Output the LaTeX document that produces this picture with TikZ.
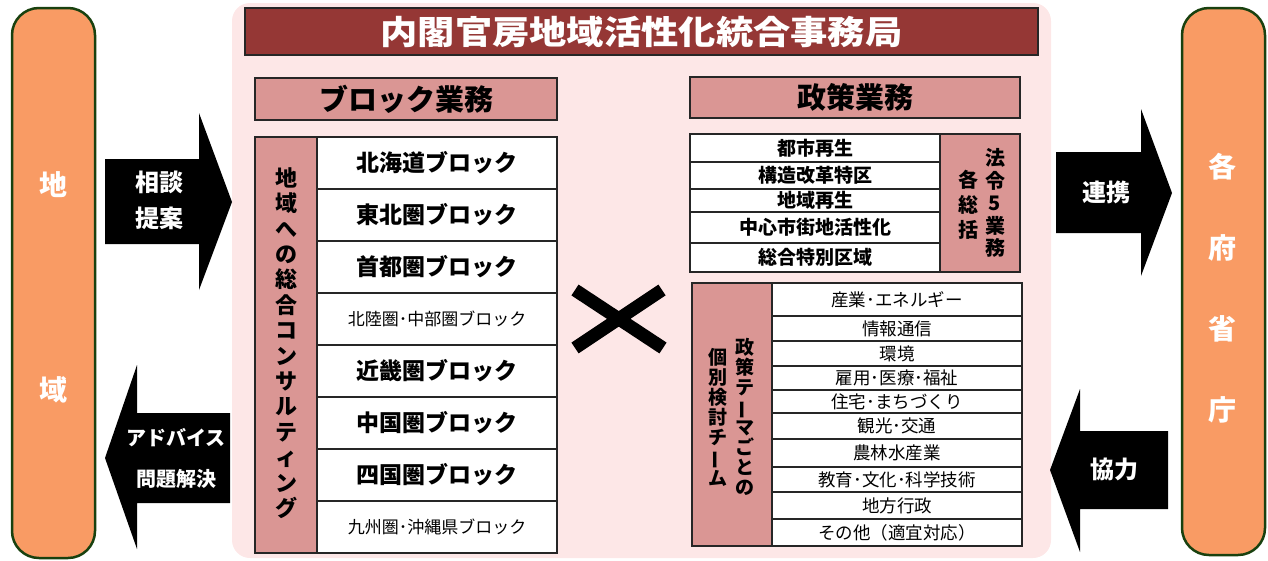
\documentclass[tikz,border=0pt]{standalone}
\usepackage{fontspec}
\setmainfont{Noto Sans CJK JP}
\usepackage{graphicx}
\usetikzlibrary{positioning}

\definecolor{sideorange}{RGB}{249,155,100}
\definecolor{sidegreen}{RGB}{25,65,15}
\definecolor{panelpink}{RGB}{253,231,231}
\definecolor{titlered}{RGB}{149,55,53}
\definecolor{hdrpink}{RGB}{218,150,148}

\newcommand{\blkbig}{\bfseries\fontsize{23}{26}\selectfont}
\newcommand{\blksmall}{\fontsize{17}{19}\selectfont}
\newcommand{\vbar}{\rotatebox[origin=c]{90}{ー}}

\tikzset{
  sidebox/.style={draw=sidegreen, line width=2.5pt, fill=sideorange, rounded corners=27pt,
    minimum width=83pt, inner sep=0pt},
  sidetext/.style={text=white, align=center},
  hdr/.style={draw=black!85, line width=1.2pt, fill=hdrpink, inner sep=0pt},
  cell/.style={draw=black!85, line width=1.2pt, fill=white, inner sep=0pt},
  arrowtext/.style={text=white, align=center},
  bigarrow/.style={fill=black}
}

\begin{document}
\begin{tikzpicture}[x=1pt, y=-1pt]
\useasboundingbox (0,0) rectangle (1268,560);

% side boxes
\node[sidebox, minimum height=550pt] (region) at (53.5,283) {};
\node[sidetext, font=\bfseries\fontsize{28}{205}\selectfont] (regiontxt) at (53.5,287) {地\\域};
\node[sidebox, minimum height=547pt] (ministry) at (1223.5,281.5) {};
\node[sidetext, font=\bfseries\fontsize{28}{81}\selectfont] (ministrytxt) at (1222,288) {各\\府\\省\\庁};

% office panel
\node[fill=panelpink, rounded corners=18pt, minimum width=819pt, minimum height=555pt] (office) at (641.5,280.5) {};
\node[draw=black!85, line width=1.2pt, fill=titlered, text=white, inner sep=0pt,
  minimum width=793pt, minimum height=47pt, font=\bfseries\fontsize{33}{36}\selectfont]
  (officetitle) at (641.5,31.5) {\scalebox{1.13}[1]{内閣官房地域活性化統合事務局}};

% headers
\node[hdr, minimum width=302pt, minimum height=42pt, font=\bfseries\fontsize{29}{32}\selectfont]
  (blockhdr) at (406,99) {ブロック業務};
\node[hdr, minimum width=330pt, minimum height=41pt, font=\bfseries\fontsize{29}{32}\selectfont]
  (policyhdr) at (855,97.5) {政策業務};

% block table
\node[hdr, minimum width=62pt, minimum height=416pt] (blockside) at (286,345) {};
\node[font=\bfseries\fontsize{22}{25.4}\selectfont, align=center] (blocksidetxt) at (286,343)
  {地\\域\\へ\\の\\総\\合\\コ\\ン\\サ\\ル\\テ\\ィ\\ン\\グ};
\foreach \t/\f [count=\i] in {北海道ブロック/\blkbig, 東北圏ブロック/\blkbig, 首都圏ブロック/\blkbig,
  北陸圏･中部圏ブロック/\blksmall, 近畿圏ブロック/\blkbig, 中国圏ブロック/\blkbig,
  四国圏ブロック/\blkbig, 九州圏･沖縄県ブロック/\blksmall}
  \node[cell, minimum width=240pt, minimum height=52pt, font=\f] (blk\i) at (437,111+52*\i) {\t};

% cross
\coordinate (crossa) at (575,290);
\coordinate (crossb) at (663,348);
\coordinate (crossc) at (662,290);
\coordinate (crossd) at (575,348);
\draw[line width=13pt] (crossa) -- (crossb) (crossc) -- (crossd);

% law tasks
\foreach \a/\b/\t [count=\i] in {134/162/都市再生, 162/189/構造改革特区, 189/212/地域再生,
  212/243/中心市街地活性化, 243/272/総合特別区域}
  \node[cell, minimum width=250pt, minimum height=\b-\a, font=\bfseries\fontsize{19}{21}\selectfont]
    (law\i) at (815,{(\a+\b)/2}) {\t};
\node[hdr, minimum width=80pt, minimum height=138pt] (lawside) at (980,203) {};
\node[font=\bfseries\fontsize{20}{22.5}\selectfont, align=center] (lawtxta) at (995,203) {法\\令\\5\\業\\務};
\node[font=\bfseries\fontsize{20}{25}\selectfont, align=center] (lawtxtb) at (968,205) {各\\総\\括};

% theme teams
\node[hdr, minimum width=80pt, minimum height=263pt] (themeside) at (732,414.5) {};
\node[font=\bfseries\fontsize{19}{20}\selectfont, align=center] (themetxta) at (745,417)
  {政\\策\\テ\\\vbar\\マ\\ご\\と\\の};
\node[font=\bfseries\fontsize{19}{20}\selectfont, align=center] (themetxtb) at (718,417)
  {個\\別\\検\\討\\チ\\\vbar\\ム};
\foreach \a/\b/\t [count=\i] in {283/316/産業･エネルギー, 316/341/情報通信, 341/366/環境,
  366/390/雇用･医療･福祉, 390/413/住宅･まちづくり, 413/439/観光･交通, 439/467/農林水産業,
  467/492/教育･文化･科学技術, 492/519/地方行政, 519/546/その他（適宜対応）}
  \node[cell, minimum width=250pt, minimum height=\b-\a, font=\fontsize{17.5}{19}\selectfont]
    (theme\i) at (897,{(\a+\b)/2}) {\t};

% block arrows
\fill[bigarrow] (105,159) -- (199,159) -- (199,113) -- (232,202) -- (199,290) -- (199,244) -- (105,244) -- cycle;
\node[arrowtext, font=\bfseries\fontsize{24}{36}\selectfont] (consult) at (159,200) {相談\\提案};
\fill[bigarrow] (230,413) -- (137,413) -- (137,365) -- (105,458) -- (137,549) -- (137,503) -- (230,503) -- cycle;
\node[arrowtext, font=\bfseries\fontsize{20}{41}\selectfont] (advice) at (176,458) {アドバイス\\問題解決};
\fill[bigarrow] (1056,152) -- (1141,152) -- (1141,109) -- (1172,193) -- (1141,276) -- (1141,233) -- (1056,233) -- cycle;
\node[arrowtext, font=\bfseries\fontsize{24}{26}\selectfont] (link) at (1106,192) {連携};
\fill[bigarrow] (1168,431) -- (1080,431) -- (1080,389) -- (1050,470) -- (1080,552) -- (1080,509) -- (1168,509) -- cycle;
\node[arrowtext, font=\bfseries\fontsize{24}{26}\selectfont] (coop) at (1114,469) {協力};
\end{tikzpicture}
\end{document}
